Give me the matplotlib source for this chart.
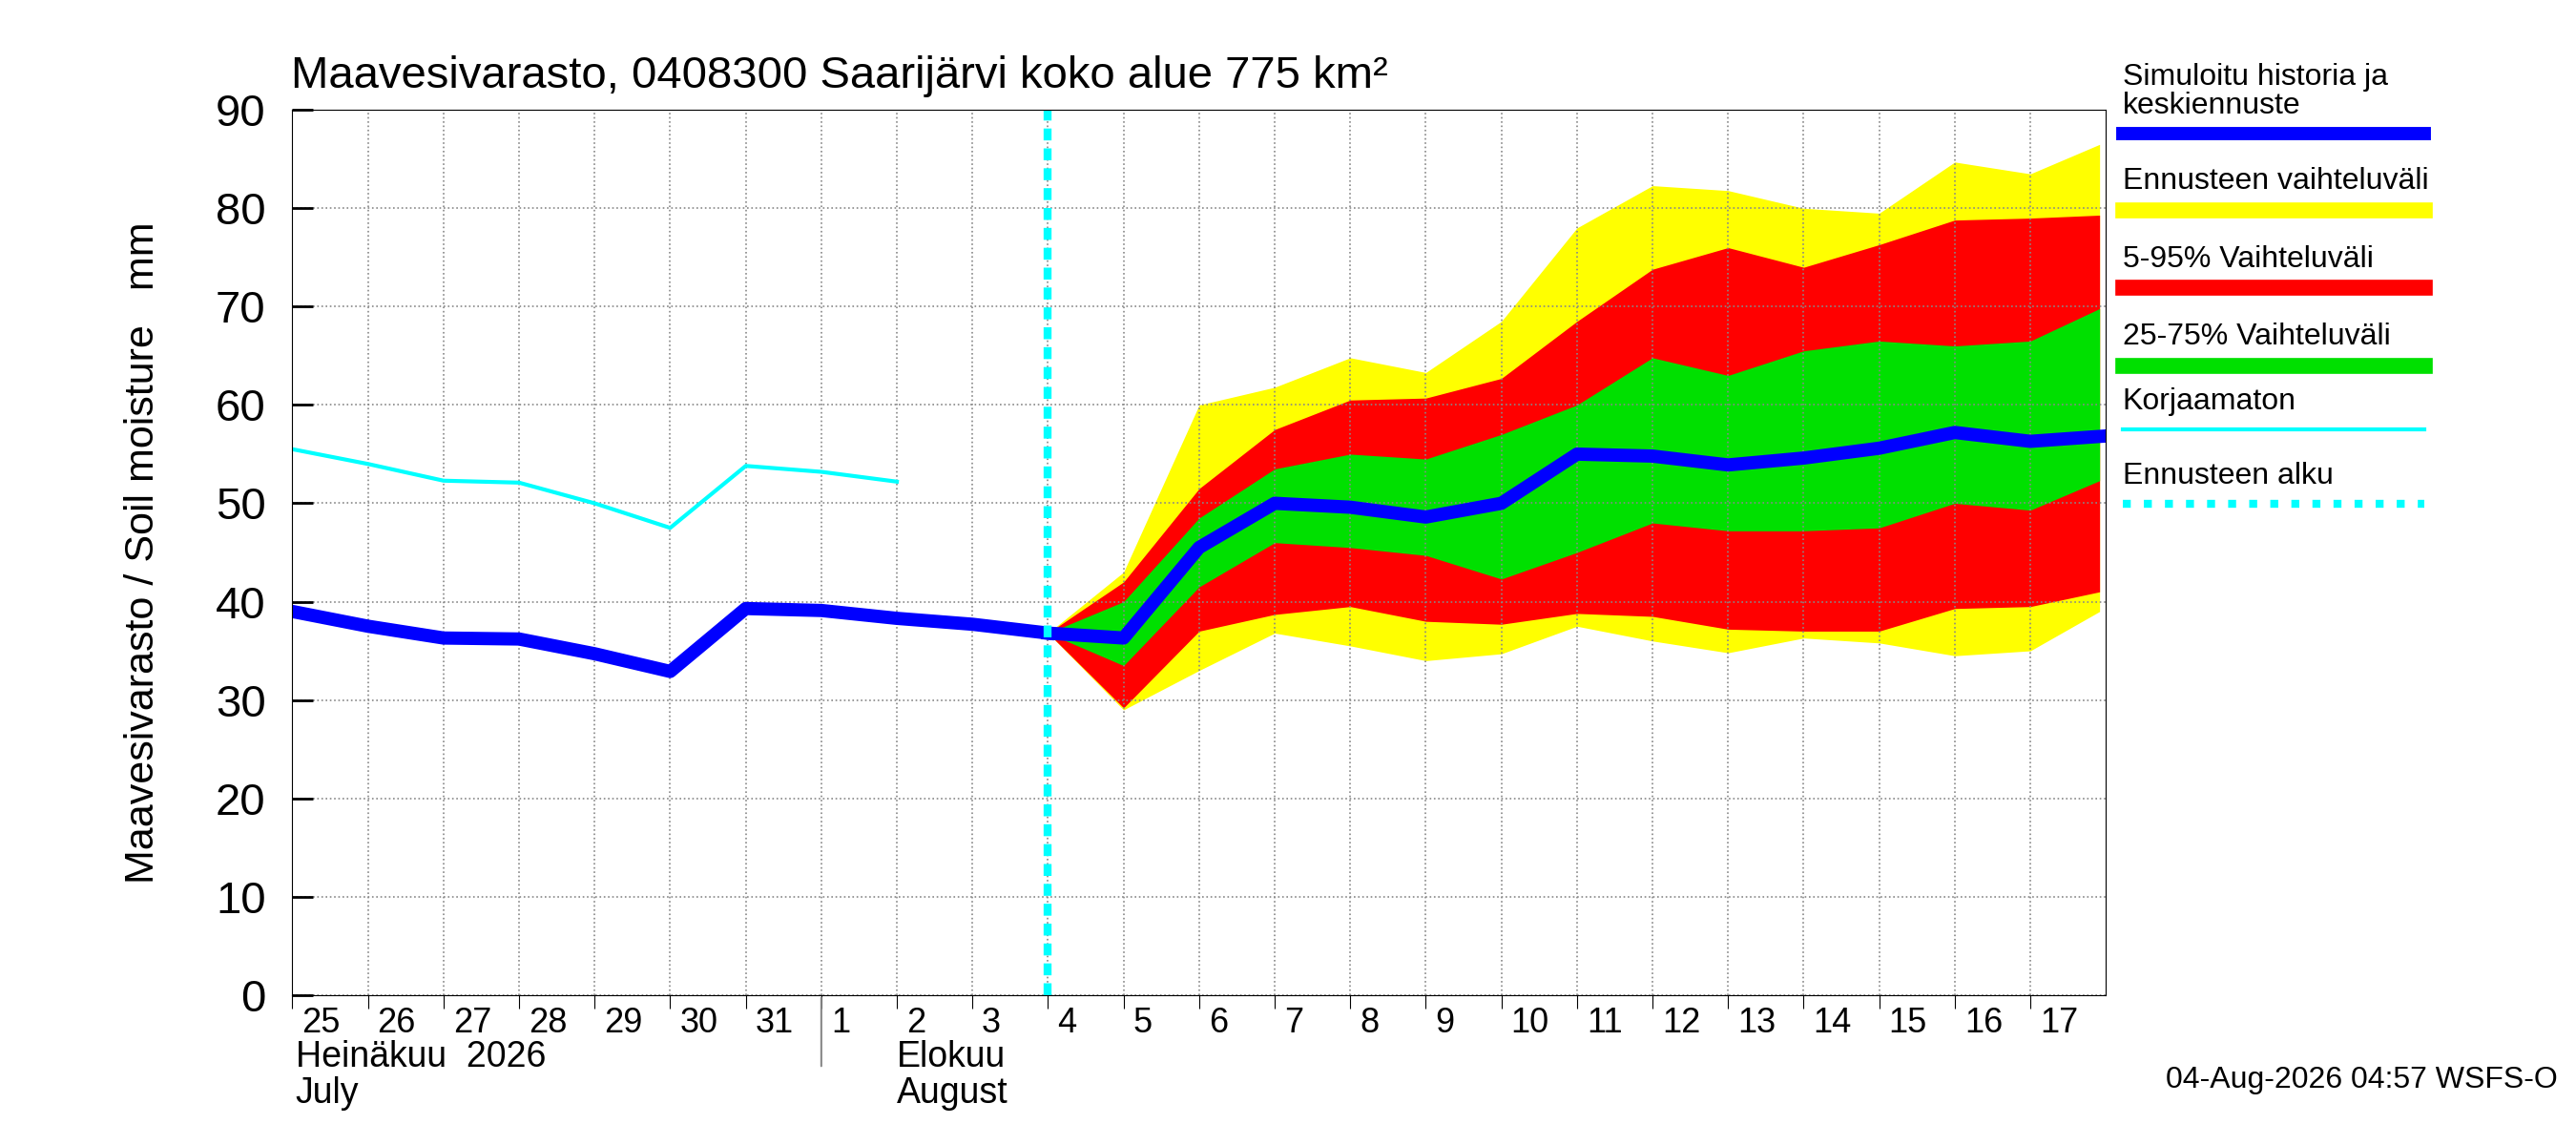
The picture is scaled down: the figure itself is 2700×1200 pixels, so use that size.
import numpy as np
import matplotlib.pyplot as plt
import matplotlib.dates as mdates
from datetime import datetime, timedelta

plt.rcParams['font.family'] = ['Liberation Sans', 'DejaVu Sans']

hist_days = [datetime(2026, 7, 25) + timedelta(days=i) for i in range(11)]
hist_blue = [39.0, 37.5, 36.3, 36.2, 34.7, 32.9, 39.3, 39.1, 38.3, 37.7, 36.8]
cyan_days = hist_days[:9]
cyan_vals = [55.5, 54.0, 52.3, 52.1, 50.0, 47.5, 53.8, 53.2, 52.2]

fc_days = [datetime(2026, 8, 4) + timedelta(days=i) for i in range(14)] + [datetime(2026, 8, 17, 22)]
fc_blue = [36.8, 36.3, 45.5, 50.0, 49.6, 48.6, 50.0, 55.0, 54.8, 53.9, 54.6, 55.6, 57.2, 56.3, 56.8]
yel_hi = [36.8, 43, 60, 61.8, 64.8, 63.3, 68.5, 78, 82.3, 81.8, 80, 79.5, 84.7, 83.5, 86.5]
yel_lo = [36.8, 29, 33, 36.8, 35.5, 34, 34.7, 37.5, 36, 34.8, 36.3, 35.8, 34.5, 35, 39]
red_hi = [36.8, 42, 51.5, 57.5, 60.5, 60.7, 62.7, 68.5, 73.8, 76, 74, 76.3, 78.8, 79, 79.3]
red_lo = [36.8, 29.2, 37, 38.7, 39.5, 38, 37.7, 38.8, 38.5, 37.2, 37, 37, 39.3, 39.5, 41]
grn_hi = [36.8, 40, 48.5, 53.5, 55, 54.5, 57, 60, 64.8, 63, 65.5, 66.5, 66, 66.5, 69.8]
grn_lo = [36.8, 33.5, 41.5, 46, 45.5, 44.7, 42.3, 45, 48, 47.2, 47.2, 47.5, 50, 49.3, 52.3]

fig = plt.figure(figsize=(27, 12), dpi=100)
ax = fig.add_axes([0.1135, 0.131, 0.704, 0.773])

ax.fill_between(fc_days, yel_lo, yel_hi, color='yellow', lw=0)
ax.fill_between(fc_days, red_lo, red_hi, color='red', lw=0)
ax.fill_between(fc_days, grn_lo, grn_hi, color='#00e000', lw=0)
ax.plot(cyan_days, cyan_vals, color='cyan', lw=3)
ax.plot(hist_days, hist_blue, color='blue', lw=10)
ax.plot(fc_days, fc_blue, color='blue', lw=10)
ax.axvline(datetime(2026, 8, 4), color='cyan', lw=6, ls=(0, (1.5, 1)))

start = datetime(2026, 7, 25)
end = datetime(2026, 8, 18)
ax.set_xlim(start, end)
ax.set_ylim(0, 90)
ax.set_yticks(range(0, 91, 10))
ax.tick_params(axis='y', labelsize=34, length=16, width=2, direction='in', pad=20)
days = [start + timedelta(days=i) for i in range(24)]
ax.set_xticks(days)
ax.set_xticklabels([])
ax.tick_params(axis='x', length=10)
for d in days:
    ax.text(d + timedelta(hours=3), -1.2, str(d.day), fontsize=26, va='top', ha='left')
ax.grid(True, color='#888888', ls=':', lw=1.2)

ax.annotate('', xy=(mdates.date2num(datetime(2026, 8, 1)), -7.5), xytext=(mdates.date2num(datetime(2026, 8, 1)), 0),
            arrowprops=dict(arrowstyle='-', color='#888888', lw=1.5), annotation_clip=False)
ax.text(start + timedelta(hours=1), -4.6, 'Heinäkuu  2026\nJuly', fontsize=27, va='top', ha='left', linespacing=1.05)
ax.text(datetime(2026, 8, 2), -4.6, 'Elokuu\nAugust', fontsize=27, va='top', ha='left', linespacing=1.05)

ax.set_ylabel('Maavesivarasto / Soil moisture   mm', fontsize=31, labelpad=40)
fig.text(0.113, 0.923, 'Maavesivarasto, 0408300 Saarijärvi koko alue 775 km²', fontsize=34, ha='left')

legend = [
    ('Simuloitu historia ja\nkeskiennuste', 'blue', 10, '-'),
    ('Ennusteen vaihteluväli', 'yellow', 12, '-'),
    ('5-95% Vaihteluväli', 'red', 12, '-'),
    ('25-75% Vaihteluväli', '#00e000', 12, '-'),
    ('Korjaamaton', 'cyan', 3, '-'),
    ('Ennusteen alku', 'cyan', 6, ':'),
]
ys = [0.883, 0.817, 0.749, 0.681, 0.625, 0.560]
for (lab, c, lw, ls), y in zip(legend, ys):
    fig.text(0.824, y + 0.012, lab, fontsize=23, va='bottom', ha='left', linespacing=1.0)
    fig.add_artist(plt.Line2D([0.824, 0.941], [y, y], color=c, lw=lw, ls=ls))

fig.text(0.993, 0.05, '04-Aug-2026 04:57 WSFS-O', fontsize=23, ha='right')
fig.savefig('out.png')
